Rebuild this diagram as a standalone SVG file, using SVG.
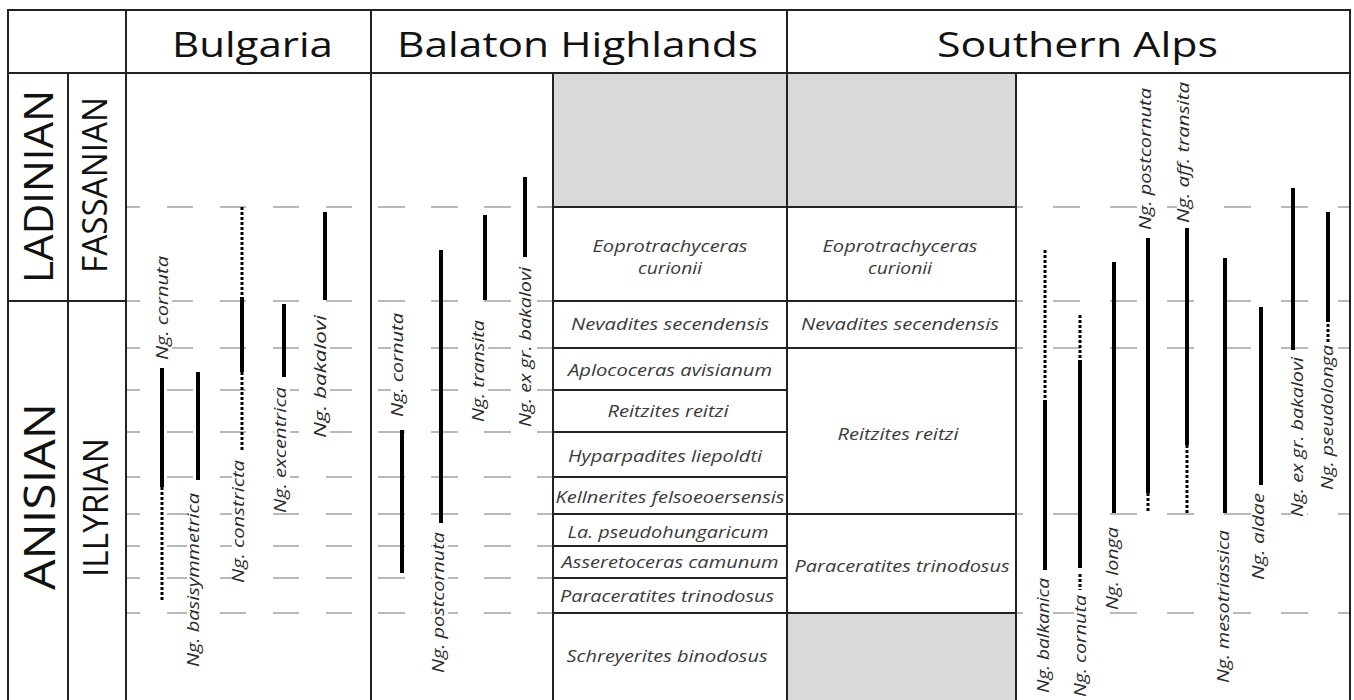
<svg xmlns="http://www.w3.org/2000/svg" width="1354" height="700" viewBox="0 0 1354 700">
<style>
.frame{stroke:#222;stroke-width:2;fill:none}
.zl{stroke:#222;stroke-width:1.8;fill:none}
.grid{stroke:#a3a3a3;stroke-width:1.5;fill:none}
.gb{stroke-dasharray:26 27;stroke-dashoffset:12}
.gh{stroke-dasharray:27 26;stroke-dashoffset:46}
.gs{stroke-dasharray:27 30;stroke-dashoffset:20}
.hdr{font-family:"Open Sans",Lato,"Liberation Sans",sans-serif;font-size:35px;fill:#111}
.stg{font-family:"Open Sans",Lato,"Liberation Sans",sans-serif;fill:#111}
.zt{font-family:"Open Sans","Liberation Sans",sans-serif;font-style:italic;font-size:17px;fill:#3a3a3a;text-anchor:middle}
.sp{font-family:"Open Sans","Liberation Sans",sans-serif;font-style:italic;font-size:16px;fill:#2a2a2a}
.r{stroke:#000;stroke-width:4;fill:none}
.d{stroke:#000;stroke-width:3;stroke-dasharray:3 2;fill:none}
.bg{fill:#fff}
.gray{fill:#d9d9d9}
</style>
<rect x="0" y="0" width="1354" height="700" fill="#fff"/>

<g id="shading">
<rect class="gray" x="553" y="73" width="234" height="134"/>
<rect class="gray" x="787" y="73" width="229" height="134"/>
<rect class="gray" x="787" y="613" width="229" height="87"/>
</g>

<g id="correlation-lines">
<g class="grid gb">
<line x1="126" y1="207" x2="371" y2="207"/><line x1="126" y1="301" x2="371" y2="301"/>
<line x1="126" y1="348" x2="371" y2="348"/><line x1="126" y1="390" x2="371" y2="390"/>
<line x1="126" y1="432" x2="371" y2="432"/><line x1="126" y1="477" x2="371" y2="477"/>
<line x1="126" y1="514" x2="371" y2="514"/><line x1="126" y1="546" x2="371" y2="546"/>
<line x1="126" y1="578" x2="371" y2="578"/><line x1="126" y1="613" x2="371" y2="613"/>
</g>
<g class="grid gh">
<line x1="371" y1="207" x2="553" y2="207"/><line x1="371" y1="301" x2="553" y2="301"/>
<line x1="371" y1="348" x2="553" y2="348"/><line x1="371" y1="390" x2="553" y2="390"/>
<line x1="371" y1="432" x2="553" y2="432"/><line x1="371" y1="477" x2="553" y2="477"/>
<line x1="371" y1="514" x2="553" y2="514"/><line x1="371" y1="546" x2="553" y2="546"/>
<line x1="371" y1="578" x2="553" y2="578"/><line x1="371" y1="613" x2="553" y2="613"/>
</g>
<g class="grid gs">
<line x1="1016" y1="207" x2="1350" y2="207"/><line x1="1016" y1="301" x2="1350" y2="301"/>
<line x1="1016" y1="348" x2="1350" y2="348"/><line x1="1016" y1="514" x2="1350" y2="514"/>
<line x1="1016" y1="613" x2="1350" y2="613"/>
</g>
</g>

<g id="table-frame">
<line class="frame" x1="7" y1="10" x2="1351" y2="10"/>
<line class="frame" x1="8" y1="10" x2="8" y2="700"/>
<line class="frame" x1="1350" y1="10" x2="1350" y2="700"/>
<line class="frame" x1="8" y1="73" x2="1350" y2="73"/>
<line class="frame" x1="126" y1="10" x2="126" y2="700"/>
<line class="frame" x1="371" y1="10" x2="371" y2="700"/>
<line class="frame" x1="787" y1="10" x2="787" y2="700"/>
<line class="frame" x1="68" y1="73" x2="68" y2="700"/>
<line class="frame" x1="553" y1="73" x2="553" y2="700"/>
<line class="frame" x1="1016" y1="73" x2="1016" y2="700"/>
<line class="frame" x1="8" y1="301" x2="126" y2="301"/>
</g>

<g id="headers">
<text class="hdr" x="172" y="57" textLength="161" lengthAdjust="spacingAndGlyphs">Bulgaria</text>
<text class="hdr" x="397" y="57" textLength="361" lengthAdjust="spacingAndGlyphs">Balaton Highlands</text>
<text class="hdr" x="937" y="57" textLength="281" lengthAdjust="spacingAndGlyphs">Southern Alps</text>
</g>

<g id="stages">
<text class="stg" transform="translate(53,283) rotate(-90)" font-size="41" textLength="193" lengthAdjust="spacingAndGlyphs">LADINIAN</text>
<text class="stg" transform="translate(107,273) rotate(-90)" font-size="34" textLength="176" lengthAdjust="spacingAndGlyphs">FASSANIAN</text>
<text class="stg" transform="translate(55,590) rotate(-90)" font-size="44" textLength="187" lengthAdjust="spacingAndGlyphs">ANISIAN</text>
<text class="stg" transform="translate(108,577) rotate(-90)" font-size="34" textLength="139" lengthAdjust="spacingAndGlyphs">ILLYRIAN</text>
</g>

<g id="zones-balaton">
<line class="zl" x1="553" y1="207" x2="787" y2="207"/><line class="zl" x1="553" y1="301" x2="787" y2="301"/>
<line class="zl" x1="553" y1="348" x2="787" y2="348"/><line class="zl" x1="553" y1="390" x2="787" y2="390"/>
<line class="zl" x1="553" y1="432" x2="787" y2="432"/><line class="zl" x1="553" y1="477" x2="787" y2="477"/>
<line class="zl" x1="553" y1="514" x2="787" y2="514"/><line class="zl" x1="553" y1="546" x2="787" y2="546"/>
<line class="zl" x1="553" y1="578" x2="787" y2="578"/><line class="zl" x1="553" y1="613" x2="787" y2="613"/>
<text class="zt" x="670" y="252" textLength="155" lengthAdjust="spacingAndGlyphs">Eoprotrachyceras</text>
<text class="zt" x="670" y="274" textLength="64" lengthAdjust="spacingAndGlyphs">curionii</text>
<text class="zt" x="670" y="330" textLength="198" lengthAdjust="spacingAndGlyphs">Nevadites secendensis</text>
<text class="zt" x="670" y="376" textLength="204" lengthAdjust="spacingAndGlyphs">Aplococeras avisianum</text>
<text class="zt" x="668" y="417" textLength="121" lengthAdjust="spacingAndGlyphs">Reitzites reitzi</text>
<text class="zt" x="665" y="462" textLength="194" lengthAdjust="spacingAndGlyphs">Hyparpadites liepoldti</text>
<text class="zt" x="670" y="503" textLength="229" lengthAdjust="spacingAndGlyphs">Kellnerites felsoeoersensis</text>
<text class="zt" x="668" y="538" textLength="201" lengthAdjust="spacingAndGlyphs">La. pseudohungaricum</text>
<text class="zt" x="670" y="568" textLength="217" lengthAdjust="spacingAndGlyphs">Asseretoceras camunum</text>
<text class="zt" x="667" y="602" textLength="214" lengthAdjust="spacingAndGlyphs">Paraceratites trinodosus</text>
<text class="zt" x="667" y="662" textLength="201" lengthAdjust="spacingAndGlyphs">Schreyerites binodosus</text>
</g>

<g id="zones-southern-alps">
<line class="zl" x1="787" y1="207" x2="1016" y2="207"/><line class="zl" x1="787" y1="301" x2="1016" y2="301"/>
<line class="zl" x1="787" y1="348" x2="1016" y2="348"/><line class="zl" x1="787" y1="514" x2="1016" y2="514"/>
<line class="zl" x1="787" y1="613" x2="1016" y2="613"/>
<text class="zt" x="900" y="252" textLength="155" lengthAdjust="spacingAndGlyphs">Eoprotrachyceras</text>
<text class="zt" x="900" y="274" textLength="64" lengthAdjust="spacingAndGlyphs">curionii</text>
<text class="zt" x="900" y="330" textLength="198" lengthAdjust="spacingAndGlyphs">Nevadites secendensis</text>
<text class="zt" x="898" y="440" textLength="121" lengthAdjust="spacingAndGlyphs">Reitzites reitzi</text>
<text class="zt" x="902" y="572" textLength="215" lengthAdjust="spacingAndGlyphs">Paraceratites trinodosus</text>
</g>

<g id="bulgaria-cornuta">
<line class="r" x1="162" y1="368" x2="162" y2="487"/><line class="d" x1="162" y1="487" x2="162" y2="600"/>
<g transform="translate(168,360) rotate(-90)"><rect class="bg" x="0" y="-12" width="104" height="16"/><text class="sp" textLength="104" lengthAdjust="spacingAndGlyphs">Ng. cornuta</text></g>
</g>
<g id="bulgaria-basisymmetrica">
<line class="r" x1="198" y1="372" x2="198" y2="480"/>
<g transform="translate(199,667) rotate(-90)"><rect class="bg" x="0" y="-12" width="174" height="16"/><text class="sp" textLength="174" lengthAdjust="spacingAndGlyphs">Ng. basisymmetrica</text></g>
</g>
<g id="bulgaria-constricta">
<line class="d" x1="242" y1="207" x2="242" y2="297"/><line class="r" x1="242" y1="297" x2="242" y2="372"/><line class="d" x1="242" y1="372" x2="242" y2="450"/>
<g transform="translate(244,583) rotate(-90)"><rect class="bg" x="0" y="-12" width="123" height="16"/><text class="sp" textLength="123" lengthAdjust="spacingAndGlyphs">Ng. constricta</text></g>
</g>
<g id="bulgaria-excentrica">
<line class="r" x1="284" y1="304" x2="284" y2="377"/>
<g transform="translate(286,513) rotate(-90)"><rect class="bg" x="0" y="-12" width="126" height="16"/><text class="sp" textLength="126" lengthAdjust="spacingAndGlyphs">Ng. excentrica</text></g>
</g>
<g id="bulgaria-bakalovi">
<line class="r" x1="325" y1="212" x2="325" y2="300"/>
<g transform="translate(326,438) rotate(-90)"><rect class="bg" x="0" y="-12" width="123" height="16"/><text class="sp" textLength="123" lengthAdjust="spacingAndGlyphs">Ng. bakalovi</text></g>
</g>

<g id="balaton-cornuta">
<line class="r" x1="402" y1="430" x2="402" y2="573"/>
<g transform="translate(403,417) rotate(-90)"><rect class="bg" x="0" y="-12" width="104" height="16"/><text class="sp" textLength="104" lengthAdjust="spacingAndGlyphs">Ng. cornuta</text></g>
</g>
<g id="balaton-postcornuta">
<line class="r" x1="441" y1="250" x2="441" y2="523"/>
<g transform="translate(444,673) rotate(-90)"><rect class="bg" x="0" y="-12" width="141" height="16"/><text class="sp" textLength="141" lengthAdjust="spacingAndGlyphs">Ng. postcornuta</text></g>
</g>
<g id="balaton-transita">
<line class="r" x1="485" y1="215" x2="485" y2="300"/>
<g transform="translate(484,422) rotate(-90)"><rect class="bg" x="0" y="-12" width="102" height="16"/><text class="sp" textLength="102" lengthAdjust="spacingAndGlyphs">Ng. transita</text></g>
</g>
<g id="balaton-ex-gr-bakalovi">
<line class="r" x1="525" y1="177" x2="525" y2="257"/>
<g transform="translate(531,427) rotate(-90)"><rect class="bg" x="0" y="-12" width="160" height="16"/><text class="sp" textLength="160" lengthAdjust="spacingAndGlyphs">Ng. ex gr. bakalovi</text></g>
</g>

<g id="alps-balkanica">
<line class="d" x1="1045" y1="250" x2="1045" y2="400"/><line class="r" x1="1045" y1="400" x2="1045" y2="570"/>
<g transform="translate(1049,693) rotate(-90)"><rect class="bg" x="0" y="-12" width="115" height="16"/><text class="sp" textLength="115" lengthAdjust="spacingAndGlyphs">Ng. balkanica</text></g>
</g>
<g id="alps-cornuta">
<line class="d" x1="1080" y1="315" x2="1080" y2="360"/><line class="r" x1="1080" y1="360" x2="1080" y2="568"/><line class="d" x1="1080" y1="574" x2="1080" y2="590"/>
<g transform="translate(1086,697) rotate(-90)"><rect class="bg" x="0" y="-12" width="102" height="16"/><text class="sp" textLength="102" lengthAdjust="spacingAndGlyphs">Ng. cornuta</text></g>
</g>
<g id="alps-longa">
<line class="r" x1="1114" y1="262" x2="1114" y2="513"/>
<g transform="translate(1118,610) rotate(-90)"><rect class="bg" x="0" y="-12" width="83" height="16"/><text class="sp" textLength="83" lengthAdjust="spacingAndGlyphs">Ng. longa</text></g>
</g>
<g id="alps-postcornuta">
<line class="r" x1="1148" y1="238" x2="1148" y2="493"/><line class="d" x1="1148" y1="493" x2="1148" y2="513"/>
<g transform="translate(1151,230) rotate(-90)"><rect class="bg" x="0" y="-12" width="142" height="16"/><text class="sp" textLength="142" lengthAdjust="spacingAndGlyphs">Ng. postcornuta</text></g>
</g>
<g id="alps-aff-transita">
<line class="r" x1="1187" y1="228" x2="1187" y2="445"/><line class="d" x1="1187" y1="445" x2="1187" y2="513"/>
<g transform="translate(1189,223) rotate(-90)"><rect class="bg" x="0" y="-12" width="141" height="16"/><text class="sp" textLength="141" lengthAdjust="spacingAndGlyphs">Ng. aff. transita</text></g>
</g>
<g id="alps-mesotriassica">
<line class="r" x1="1225" y1="258" x2="1225" y2="513"/>
<g transform="translate(1229,683) rotate(-90)"><rect class="bg" x="0" y="-12" width="153" height="16"/><text class="sp" textLength="153" lengthAdjust="spacingAndGlyphs">Ng. mesotriassica</text></g>
</g>
<g id="alps-aldae">
<line class="r" x1="1261" y1="307" x2="1261" y2="485"/>
<g transform="translate(1264,580) rotate(-90)"><rect class="bg" x="0" y="-12" width="87" height="16"/><text class="sp" textLength="87" lengthAdjust="spacingAndGlyphs">Ng. aldae</text></g>
</g>
<g id="alps-ex-gr-bakalovi">
<line class="r" x1="1293" y1="188" x2="1293" y2="350"/>
<g transform="translate(1303,517) rotate(-90)"><rect class="bg" x="0" y="-12" width="160" height="16"/><text class="sp" textLength="160" lengthAdjust="spacingAndGlyphs">Ng. ex gr. bakalovi</text></g>
</g>
<g id="alps-pseudolonga">
<line class="r" x1="1328" y1="212" x2="1328" y2="322"/><line class="d" x1="1328" y1="324" x2="1328" y2="342"/>
<g transform="translate(1333,490) rotate(-90)"><rect class="bg" x="0" y="-12" width="145" height="16"/><text class="sp" textLength="145" lengthAdjust="spacingAndGlyphs">Ng. pseudolonga</text></g>
</g>
</svg>
